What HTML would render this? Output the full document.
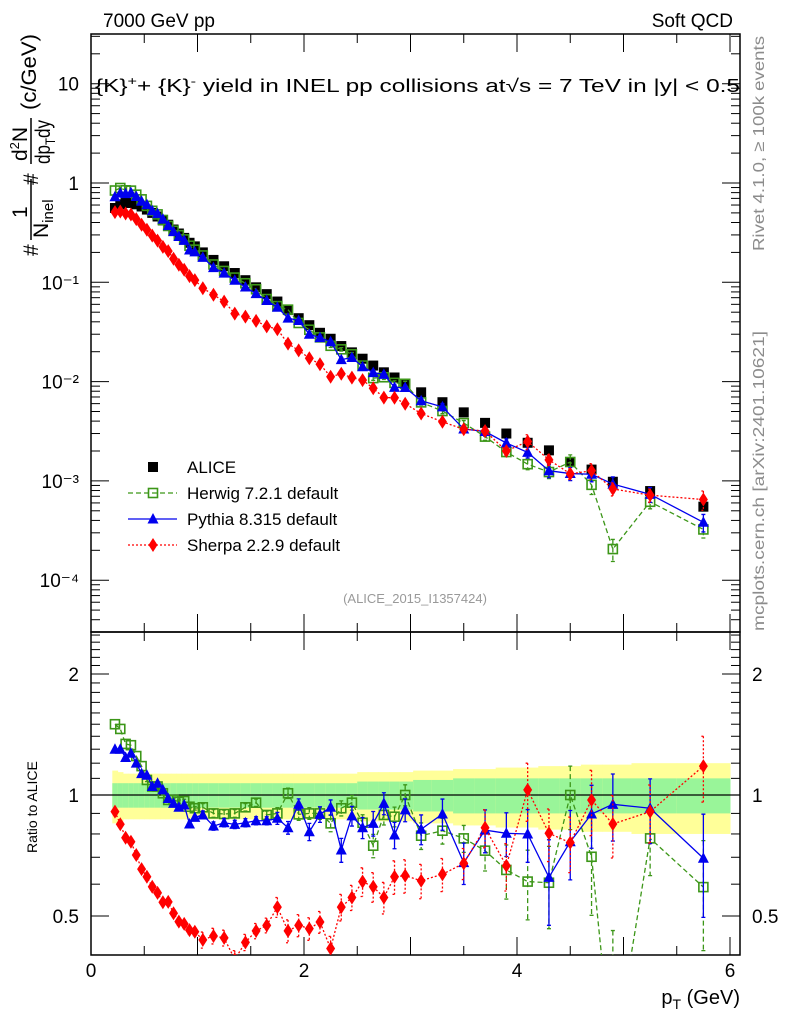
<!DOCTYPE html>
<html><head><meta charset="utf-8"><style>
html,body{margin:0;padding:0;background:#fff;overflow:hidden;}
svg{display:block;font-family:"Liberation Sans",sans-serif;}
</style></head><body>
<svg id="chart" width="786" height="1024" viewBox="0 0 786 1024" xmlns="http://www.w3.org/2000/svg">
<defs>
<clipPath id="clipMain"><rect x="91" y="34" width="649" height="598"/></clipPath>
<clipPath id="clipRatio"><rect x="91" y="632" width="649" height="323"/></clipPath>
</defs>
<text x="103" y="27" font-size="19">7000 GeV pp</text>
<text x="733" y="27" font-size="19" text-anchor="end">Soft QCD</text>
<g id="bandsG" clip-path="url(#clipRatio)"></g>
<g id="axesG"></g>
<text x="95" y="92" font-size="18" textLength="645" lengthAdjust="spacingAndGlyphs">{K}<tspan dy="-7" font-size="12">+</tspan><tspan dy="7">+ {K}</tspan><tspan dy="-7" font-size="12">-</tspan><tspan dy="7"> yield in INEL pp collisions at√s =  7 TeV in |y| &lt; 0.5</tspan></text>
<g id="mainG" clip-path="url(#clipMain)"></g>
<g id="ratioG" clip-path="url(#clipRatio)"></g>
<g font-size="21">
 <text transform="translate(38,256) rotate(-90)">#</text>
 <text transform="translate(27,218) rotate(-90)">1</text>
 <line x1="31" y1="240" x2="31" y2="179" stroke="#000" stroke-width="1.5"/>
 <text transform="translate(48,238) rotate(-90)">N<tspan font-size="15" dy="5">inel</tspan></text>
 <text transform="translate(38,185) rotate(-90)">#</text>
 <text transform="translate(27,161) rotate(-90)">d<tspan font-size="13" dy="-8">2</tspan><tspan dy="8">N</tspan></text>
 <line x1="31" y1="164" x2="31" y2="118" stroke="#000" stroke-width="1.5"/>
 <text transform="translate(50,164) rotate(-90)" textLength="44" lengthAdjust="spacingAndGlyphs">dp<tspan font-size="14" dy="5">T</tspan><tspan dy="-5">dy</tspan></text>
 <text transform="translate(36,110) rotate(-90)" textLength="76" lengthAdjust="spacingAndGlyphs">(c/GeV)</text>
</g>
<text transform="translate(37,853) rotate(-90)" font-size="14">Ratio to ALICE</text>
<text x="740" y="1004" font-size="20" text-anchor="end">p<tspan font-size="14" dy="5">T</tspan><tspan dy="-5"> (GeV)</tspan></text>
<text transform="translate(764,251) rotate(-90)" font-size="16" fill="#8c8c8c" textLength="215" lengthAdjust="spacingAndGlyphs">Rivet 4.1.0, ≥ 100k events</text>
<text transform="translate(764,631) rotate(-90)" font-size="16" fill="#8c8c8c" textLength="300" lengthAdjust="spacingAndGlyphs">mcplots.cern.ch [arXiv:2401.10621]</text>
<text x="415" y="603" font-size="13" fill="#999" text-anchor="middle">(ALICE_2015_I1357424)</text>
<g id="legendG"></g>
</svg>
<script>
const ptCenters=[0.225,0.275,0.325,0.375,0.425,0.475,0.525,0.575,0.625,0.675,0.725,0.775,0.825,0.875,0.925,0.975,
1.05,1.15,1.25,1.35,1.45,1.55,1.65,1.75,1.85,1.95,2.05,2.15,2.25,2.35,2.45,2.55,2.65,2.75,2.85,2.95,
3.1,3.3,3.5,3.7,3.9,4.1,4.3,4.5,4.7,4.9,5.25,5.75];
const aliceYield=[0.56,0.61,0.63,0.63,0.61,0.58,0.54,0.50,0.46,0.42,0.38,0.34,0.31,0.28,0.25,0.23,
0.20,0.168,0.145,0.124,0.105,0.089,0.076,0.064,0.0525,0.0435,0.037,0.031,0.027,0.0228,0.0197,0.017,0.0145,0.0124,0.011,0.0095,
0.0078,0.0062,0.0049,0.00384,0.0030,0.00242,0.00203,0.00155,0.0013,0.00098,0.00079,0.00055];
const aliceTotErr=[0.15,0.14,0.13,0.13,0.13,0.13,0.13,0.13,0.13,0.13,0.13,0.13,0.13,0.13,0.13,0.13,
0.13,0.13,0.13,0.13,0.13,0.13,0.13,0.13,0.13,0.13,0.13,0.13,0.13,0.13,0.13,0.14,0.14,0.14,0.14,0.14,
0.15,0.15,0.16,0.16,0.17,0.17,0.18,0.18,0.19,0.19,0.20,0.20];
const aliceStatErr=[0.07,0.07,0.07,0.07,0.07,0.07,0.07,0.07,0.07,0.07,0.07,0.07,0.07,0.07,0.07,0.07,
0.07,0.07,0.07,0.07,0.07,0.07,0.07,0.07,0.07,0.07,0.07,0.07,0.07,0.07,0.07,0.08,0.08,0.08,0.08,0.08,
0.09,0.09,0.10,0.10,0.10,0.10,0.10,0.10,0.10,0.10,0.10,0.10];
const herwigRatio=[1.50,1.46,1.34,1.33,1.25,1.18,1.09,1.05,1.05,1.01,0.972,0.972,0.962,0.966,0.935,0.927,
0.932,0.90,0.897,0.90,0.932,0.957,0.892,0.90,1.01,0.895,0.90,0.90,0.85,0.927,0.957,0.853,0.748,0.892,0.883,1.0,
0.792,0.815,0.78,0.727,0.651,0.609,0.605,1.0,0.702,0.21,0.78,0.59];
const pythiaRatio=[1.30,1.30,1.24,1.27,1.20,1.13,1.12,1.05,1.07,1.03,0.98,0.953,0.932,0.944,0.847,0.88,
0.892,0.837,0.853,0.845,0.853,0.863,0.863,0.875,0.829,0.948,0.81,0.895,0.932,0.73,0.887,0.829,0.85,0.953,0.795,0.918,
0.822,0.897,0.679,0.818,0.803,0.80,0.624,0.765,0.897,0.948,0.927,0.696];
const sherpaRatio=[0.909,0.846,0.783,0.765,0.709,0.654,0.626,0.591,0.571,0.541,0.542,0.508,0.484,0.478,0.461,0.457,
0.436,0.446,0.441,0.39,0.430,0.459,0.474,0.526,0.459,0.474,0.465,0.483,0.415,0.526,0.556,0.609,0.591,0.556,0.626,0.63,
0.612,0.635,0.676,0.829,0.667,1.03,0.803,0.761,0.972,0.847,0.909,1.18];
const herwigErr=[0.01,0.01,0.01,0.01,0.01,0.01,0.01,0.01,0.01,0.01,0.01,0.01,0.01,0.01,0.01,0.01,
0.02,0.02,0.02,0.02,0.02,0.02,0.02,0.03,0.03,0.03,0.03,0.03,0.04,0.04,0.04,0.04,0.05,0.05,0.05,0.06,
0.06,0.06,0.06,0.08,0.10,0.12,0.14,0.18,0.20,0.25,0.15,0.18];
const pythiaErr=[0.01,0.01,0.01,0.01,0.01,0.01,0.01,0.01,0.01,0.01,0.01,0.01,0.01,0.01,0.01,0.01,
0.02,0.02,0.02,0.02,0.02,0.02,0.02,0.03,0.03,0.03,0.04,0.04,0.04,0.05,0.05,0.05,0.06,0.06,0.06,0.06,
0.07,0.08,0.08,0.10,0.10,0.12,0.15,0.15,0.16,0.18,0.17,0.20];
const sherpaErr=[0.01,0.01,0.01,0.01,0.01,0.01,0.01,0.01,0.01,0.01,0.01,0.01,0.01,0.01,0.01,0.01,
0.02,0.02,0.02,0.02,0.02,0.02,0.02,0.03,0.03,0.03,0.03,0.03,0.03,0.04,0.04,0.05,0.05,0.05,0.06,0.06,
0.06,0.06,0.06,0.09,0.09,0.17,0.12,0.12,0.18,0.15,0.15,0.22];
const xTickLabels=["0","2","4","6"];
const mainTickLabels=["10","1","10⁻¹","10⁻²","10⁻³","10⁻⁴"];
const ratioTickLabels=["2","1","0.5"];

const NS="http://www.w3.org/2000/svg";
const X0=91,X1=740,YT=34,YM=632,YB=955;
function px(x){return X0+106.5*x;}
function mY(v){return 183-99.3*Math.log10(v);}
function rY(r){return 795-121*Math.log2(r);}
function mk(tag,attrs,parent){const e=document.createElementNS(NS,tag);for(const k in attrs)e.setAttribute(k,attrs[k]);parent.appendChild(e);return e;}
const axesG=document.getElementById('axesG'),mainG=document.getElementById('mainG'),ratioG=document.getElementById('ratioG'),bandsG=document.getElementById('bandsG'),legendG=document.getElementById('legendG');

function edges(i){const c=ptCenters[i];const l=i>0?(c+ptCenters[i-1])/2:c-(ptCenters[1]-c)/2;const r=i<ptCenters.length-1?(c+ptCenters[i+1])/2:c+(c-ptCenters[i-1])/2;return [l,r];}
for(let i=0;i<ptCenters.length;i++){
 const [l,r]=edges(i);
 const yb=mk('rect',{x:px(l),y:rY(1+aliceTotErr[i]),width:px(r)-px(l)+0.5,height:rY(1-aliceTotErr[i])-rY(1+aliceTotErr[i]),fill:'#ffff99'},bandsG);
 
 
 const gb=mk('rect',{x:px(l),y:rY(1+aliceStatErr[i]),width:px(r)-px(l)+0.5,height:rY(1-aliceStatErr[i])-rY(1+aliceStatErr[i]),fill:'#99f599'},bandsG);
 
 
}
const ref=mk('line',{x1:X0,y1:rY(1),x2:X1,y2:rY(1),stroke:'#000','stroke-width':1.3},bandsG);



const f1=mk('rect',{x:X0,y:YT,width:X1-X0,height:YM-YT,fill:'none',stroke:'#000','stroke-width':1.5},axesG);


const f2=mk('rect',{x:X0,y:YM,width:X1-X0,height:YB-YM,fill:'none',stroke:'#000','stroke-width':1.5},axesG);



for(let k=0;k<=12;k++){
 const x=px(k*0.5);if(x>X1)continue;
 const len=(k%2===0)?18:9;
 [[YT,1],[YM,-1],[YM,1],[YB,-1]].forEach(([y,d])=>{const t=mk('line',{x1:x,y1:y,x2:x,y2:y+d*len,stroke:'#000','stroke-width':1},axesG);});
}
xTickLabels.forEach((s,i)=>{const t=mk('text',{x:px(i*2),y:YB+22,'font-size':19,'text-anchor':'middle'},axesG);t.textContent=s;});

for(let e=-5;e<=1;e++){for(let m=1;m<=9;m++){const v=m*Math.pow(10,e);const y=mY(v);if(y<YT||y>YM)continue;const len=m===1?18:9;
 [[X0,1],[X1,-1]].forEach(([x,d])=>{const t=mk('line',{x1:x,y1:y,x2:x+d*len,y2:y,stroke:'#000','stroke-width':1},axesG);});}}
mainTickLabels.forEach((s,i)=>{const t=mk('text',{x:79,y:mY(Math.pow(10,1-i))+7,'font-size':19,'text-anchor':'end'},axesG);t.textContent=s;});

for(let k=3;k<=25;k++){const r=k/10;const y=rY(r);if(y<=YM||y>=YB)continue;const len=(k===5||k===10||k===20)?18:9;
 [[X0,1],[X1,-1]].forEach(([x,d])=>{const t=mk('line',{x1:x,y1:y,x2:x+d*len,y2:y,stroke:'#000','stroke-width':1},axesG);});}
ratioTickLabels.forEach((s,i)=>{const r=[2,1,0.5][i];
 const t=mk('text',{x:79,y:rY(r)+7,'font-size':19,'text-anchor':'end'},axesG);t.textContent=s;
 const t2=mk('text',{x:752,y:rY(r)+7,'font-size':19},axesG);t2.textContent=s;});

function marker(kind,x,y,color,parent,name){
 let e;
 if(kind==='sq') e=mk('rect',{x:x-5,y:y-5,width:10,height:10,fill:'#000'},parent);
 else if(kind==='osq') e=mk('rect',{x:x-4.5,y:y-4.5,width:9,height:9,fill:'none',stroke:color,'stroke-width':1.6},parent);
 else if(kind==='tri') e=mk('polygon',{points:`${x},${y-6} ${x-5.5},${y+4.5} ${x+5.5},${y+4.5}`,fill:color},parent);
 else e=mk('polygon',{points:`${x},${y-7} ${x-4.5},${y} ${x},${y+7} ${x+4.5},${y}`,fill:color},parent);
 
 
 return e;
}
const series=[
 {name:'herwig',ratio:herwigRatio,err:herwigErr,color:'#3c9618',kind:'osq',dash:'5,3'},
 {name:'pythia',ratio:pythiaRatio,err:pythiaErr,color:'#0000ee',kind:'tri',dash:''},
 {name:'sherpa',ratio:sherpaRatio,err:sherpaErr,color:'#ff0000',kind:'dia',dash:'2,2'}
];
ptCenters.forEach((x,i)=>{marker('sq',px(x),mY(aliceYield[i]),'#000',mainG,'alice-data-point');});
series.forEach(s=>{
 const mpts=ptCenters.map((x,i)=>[px(x),mY(aliceYield[i]*s.ratio[i])]);
 const rpts=ptCenters.map((x,i)=>[px(x),rY(s.ratio[i])]);
 [[mainG,mpts,'main',i=>aliceYield[i]*s.ratio[i],mY],[ratioG,rpts,'ratio',i=>s.ratio[i],rY]].forEach(([g,pts,pn,val,yf])=>{
  const pl=mk('polyline',{points:pts.map(p=>p.join(',')).join(' '),fill:'none',stroke:s.color,'stroke-width':1.3,'stroke-dasharray':s.dash},g);
  
  
  pts.forEach((p,i)=>{
   const v=val(i);
   const lo=pn==='main'?v*(1-s.err[i]):v-s.err[i],hi=pn==='main'?v*(1+s.err[i]):v+s.err[i];
   const ylo=yf(Math.max(lo,1e-6)),yhi=yf(hi);
   if(ylo-yhi>3){
    const eb=mk('path',{d:`M${p[0]},${yhi}V${ylo}M${p[0]-2},${yhi}H${p[0]+2}M${p[0]-2},${ylo}H${p[0]+2}`,stroke:s.color,'stroke-width':1.3,fill:'none','stroke-dasharray':s.dash},g);
    
    
   }
   marker(s.kind,p[0],p[1],s.color,g,s.name+'-'+pn+'-point');
  });
 });
});

const legItems=[['ALICE','sq','#000',''],['Herwig 7.2.1 default','osq','#3c9618','5,3'],['Pythia 8.315 default','tri','#0000ee',''],['Sherpa 2.2.9 default','dia','#ff0000','2,2']];
legItems.forEach((it,i)=>{
 const y=467+26*i;
 const g=mk('g',{},legendG);
 
 
 if(i>0)mk('line',{x1:128,y1:y,x2:177,y2:y,stroke:it[2],'stroke-width':1.3,'stroke-dasharray':it[3]},g);
 marker(it[1],153,y,it[2],g,'legend-marker');
 const t=mk('text',{x:187,y:y+6,'font-size':17},g);t.textContent=it[0];
});
</script>
</body></html>
